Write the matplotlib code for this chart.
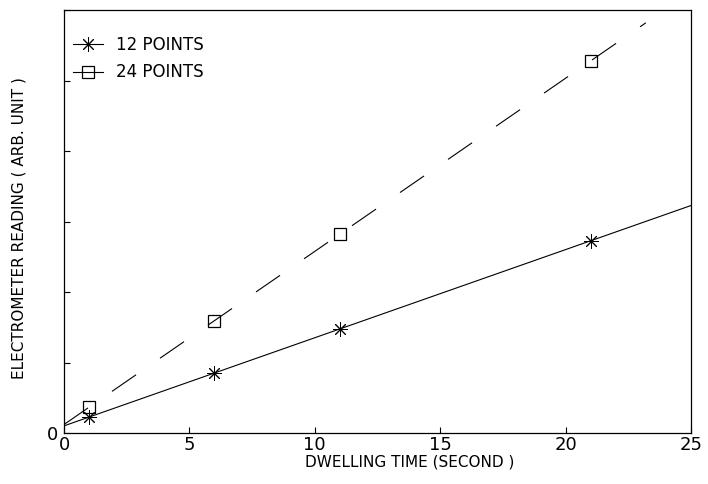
import numpy as np
import matplotlib
matplotlib.use("Agg")
import matplotlib.pyplot as plt
from matplotlib.lines import Line2D

# ---- data ----
dwell_time = [1, 6, 11, 21]
reading_12 = [0.23, 0.85, 1.47, 2.73]
reading_24 = [0.37, 1.59, 2.82, 5.28]
series_labels = ["12 POINTS", "24 POINTS"]
fit_end_12 = 25.0
fit_end_24 = 23.2
x_ticks = [0, 5, 10, 15, 20, 25]
y_ticks = [0, 1, 2, 3, 4, 5, 6]
y_tick_labels = ["0", "", "", "", "", "", ""]

FONT = ["Liberation Sans Narrow", "DejaVu Sans"]
plt.rcParams["font.family"] = FONT
plt.rcParams["lines.scale_dashes"] = False

fig = plt.figure(figsize=(7.08, 4.84), dpi=100)
ax = fig.add_axes([64 / 708, 1 - 433 / 484, 627 / 708, 423 / 484])

# linear fits through the measured points
p12 = np.polyfit(dwell_time, reading_12, 1)
p24 = np.polyfit(dwell_time, reading_24, 1)
xf12 = np.array([0.0, fit_end_12])
xf24 = np.array([0.0, fit_end_24])

ax.plot(xf12, np.polyval(p12, xf12), color="black", lw=0.8)
ax.plot(xf24, np.polyval(p24, xf24), color="black", lw=0.8,
        dashes=(21, 21))

star = (8, 2, 0)
ax.plot(dwell_time, reading_12, linestyle="none", marker=star,
        markersize=10.5, markeredgewidth=0.7, color="black")
ax.plot(dwell_time, reading_24, linestyle="none", marker="s",
        markersize=8.5, markeredgewidth=0.9, markerfacecolor="none",
        markeredgecolor="black")

ax.set_xlim(0, 25)
ax.set_ylim(0, 6)
ax.set_xticks(x_ticks)
ax.set_xticklabels([str(t) for t in x_ticks])
ax.set_yticks(y_ticks)
ax.set_yticklabels(y_tick_labels)
ax.tick_params(direction="in", length=4, width=0.8, labelsize=13)
ax.tick_params(axis="x", pad=2)
ax.tick_params(axis="y", pad=4)
for s in ax.spines.values():
    s.set_linewidth(0.9)

ax.set_xlabel("DWELLING TIME (SECOND )", fontsize=11, va="center")
ax.xaxis.set_label_coords(0.552, -0.068)
ax.set_ylabel("ELECTROMETER READING ( ARB. UNIT )", fontsize=11, va="center")
ax.yaxis.set_label_coords(-0.072, 0.485)

handles = [
    Line2D([], [], color="black", lw=0.8, marker=star, markersize=10.5,
           markeredgewidth=0.7),
    Line2D([], [], color="black", lw=0.8, marker="s", markersize=8.5,
           markeredgewidth=0.9, markerfacecolor="none"),
]
ax.legend(handles, series_labels, loc="upper left",
          bbox_to_anchor=(0.0144, 0.938), frameon=False, fontsize=12,
          handlelength=1.8, handletextpad=0.75, labelspacing=0.55,
          borderpad=0, borderaxespad=0, numpoints=1)

fig.savefig("out.png", dpi=100)
